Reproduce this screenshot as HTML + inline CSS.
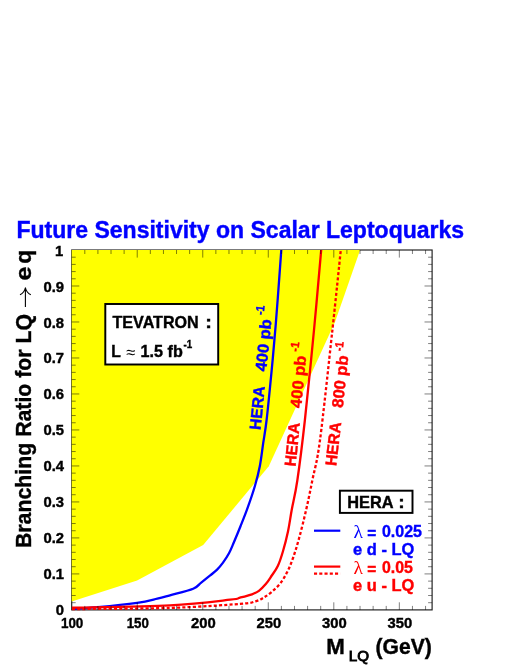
<!DOCTYPE html>
<html><head><meta charset="utf-8"><title>Future Sensitivity on Scalar Leptoquarks</title>
<style>
html,body{margin:0;padding:0;background:#fff;}
svg{display:block;}
text{font-family:"Liberation Sans",sans-serif;font-weight:bold;paint-order:stroke;}
svg{will-change:transform;}
</style></head><body>
<svg width="518" height="670" viewBox="0 0 518 670">
<rect width="518" height="670" fill="#fff"/>
<rect x="71.7" y="250.0" width="360.40" height="359.90" fill="none" stroke="#1c1c1c" stroke-width="1.15"/>
<polygon points="71.7,601.4 137.1,580.6 203.2,545.0 268.8,466.2 335.0,322.0 360.1,250.0 71.7,250.0" fill="#ffff00"/>
<text transform="translate(16.46,237.80) scale(1.0015,1)" font-size="23" fill="#0000ff" stroke="#0000ff" stroke-width="0.4">Future Sensitivity on Scalar Leptoquarks</text>
<g><text x="203.35" y="628.30" font-size="14.8" fill="#000" stroke="#000" stroke-width="0.4" text-anchor="middle">200</text><text x="268.88" y="628.30" font-size="14.8" fill="#000" stroke="#000" stroke-width="0.4" text-anchor="middle">250</text><text x="334.41" y="628.30" font-size="14.8" fill="#000" stroke="#000" stroke-width="0.4" text-anchor="middle">300</text><text x="399.94" y="628.30" font-size="14.8" fill="#000" stroke="#000" stroke-width="0.4" text-anchor="middle">350</text><text transform="translate(60.93,628.30) scale(0.9086,1)" font-size="14.8" fill="#000" stroke="#000" stroke-width="0.4">100</text><text transform="translate(126.64,628.30) scale(0.9001,1)" font-size="14.8" fill="#000" stroke="#000" stroke-width="0.4">150</text><text x="64.00" y="614.90" font-size="14.8" fill="#000" stroke="#000" stroke-width="0.4" text-anchor="end">0</text><text x="64.00" y="578.98" font-size="14.8" fill="#000" stroke="#000" stroke-width="0.4" text-anchor="end">0.1</text><text x="64.00" y="543.06" font-size="14.8" fill="#000" stroke="#000" stroke-width="0.4" text-anchor="end">0.2</text><text x="64.00" y="507.14" font-size="14.8" fill="#000" stroke="#000" stroke-width="0.4" text-anchor="end">0.3</text><text x="64.00" y="471.22" font-size="14.8" fill="#000" stroke="#000" stroke-width="0.4" text-anchor="end">0.4</text><text x="64.00" y="435.30" font-size="14.8" fill="#000" stroke="#000" stroke-width="0.4" text-anchor="end">0.5</text><text x="64.00" y="399.38" font-size="14.8" fill="#000" stroke="#000" stroke-width="0.4" text-anchor="end">0.6</text><text x="64.00" y="363.46" font-size="14.8" fill="#000" stroke="#000" stroke-width="0.4" text-anchor="end">0.7</text><text x="64.00" y="327.54" font-size="14.8" fill="#000" stroke="#000" stroke-width="0.4" text-anchor="end">0.8</text><text x="64.00" y="291.62" font-size="14.8" fill="#000" stroke="#000" stroke-width="0.4" text-anchor="end">0.9</text><text x="63.20" y="255.70" font-size="14.8" fill="#000" stroke="#000" stroke-width="0.4" text-anchor="end">1</text></g>
<text transform="translate(31.30,548.04) rotate(-90) scale(0.9344,1)" font-size="22.8" fill="#000" stroke="#000" stroke-width="0.4">Branching Ratio for LQ</text>
<text transform="translate(31.30,280.46) rotate(-90) scale(1.1043,1)" font-size="22.8" fill="#000" stroke="#000" stroke-width="0.4">e</text>
<text transform="translate(31.30,263.83) rotate(-90) scale(0.9944,1)" font-size="22.8" fill="#000" stroke="#000" stroke-width="0.4">q</text>
<path d="M25.4 307V288.6M20.0 294.8Q24.2 292.6 25.4 287.8Q26.6 292.6 30.8 294.8" fill="none" stroke="#000" stroke-width="1.1" stroke-linejoin="round"/>
<text transform="translate(326.21,654.20) scale(1.0228,1)" font-size="21.8" fill="#000" stroke="#000" stroke-width="0.4">M</text>
<text transform="translate(348.70,661.0) scale(0.9999,1)" font-size="15.2" fill="#000" stroke="#000" stroke-width="0.9" style="font-weight:normal">LQ</text>
<text transform="translate(375.54,654.20) scale(0.9686,1)" font-size="21.8" fill="#000" stroke="#000" stroke-width="0.4">(GeV)</text>
<path d="M72.00 608.80C76.32 608.53 87.05 608.18 97.90 607.20C108.75 606.22 127.20 604.32 137.10 602.90C147.00 601.48 151.82 599.97 157.30 598.70C162.78 597.43 164.02 596.97 170.00 595.30C175.98 593.63 188.05 590.78 193.20 588.70C198.35 586.62 198.07 585.02 200.90 582.80C203.73 580.58 207.50 577.60 210.20 575.40C212.90 573.20 214.97 571.73 217.10 569.60C219.23 567.47 221.02 565.32 223.00 562.60C224.98 559.88 227.20 556.65 229.00 553.30C230.80 549.95 231.90 546.97 233.80 542.50C235.70 538.03 238.12 532.22 240.40 526.50C242.68 520.78 245.08 514.95 247.50 508.20C249.92 501.45 252.85 492.98 254.90 486.00C256.95 479.02 258.42 473.43 259.80 466.30C261.18 459.17 262.07 450.92 263.20 443.20C264.33 435.48 265.22 431.87 266.60 420.00C267.98 408.13 269.98 387.83 271.50 372.00C273.02 356.17 274.52 339.17 275.70 325.00C276.88 310.83 277.67 299.50 278.60 287.00C279.53 274.50 280.85 256.17 281.30 250.00" fill="none" stroke="#0000ff" stroke-width="2.3" stroke-linejoin="round"/>
<path d="M72.00 607.70C88.33 607.30 143.63 606.63 170.00 605.30C196.37 603.97 218.53 600.98 230.20 599.70C241.87 598.42 236.37 598.50 240.00 597.60C243.63 596.70 248.85 595.43 252.00 594.30C255.15 593.17 256.60 592.50 258.90 590.80C261.20 589.10 263.65 586.65 265.80 584.10C267.95 581.55 269.80 578.50 271.80 575.50C273.80 572.50 275.95 570.10 277.80 566.10C279.65 562.10 281.18 557.37 282.90 551.50C284.62 545.63 286.63 537.82 288.10 530.90C289.57 523.98 290.15 518.48 291.70 510.00C293.25 501.52 295.20 495.00 297.40 480.00C299.60 465.00 302.13 445.00 304.90 420.00C307.67 395.00 311.28 358.33 314.00 330.00C316.72 301.67 320.00 263.33 321.20 250.00" fill="none" stroke="#ff0000" stroke-width="2.3" stroke-linejoin="round"/>
<path d="M72.00 609.10C88.33 608.90 142.00 608.77 170.00 607.90C198.00 607.03 225.75 605.00 240.00 603.90C254.25 602.80 251.63 602.30 255.50 601.30C259.37 600.30 260.48 599.48 263.20 597.90C265.92 596.32 268.95 594.23 271.80 591.80C274.65 589.37 277.73 586.58 280.30 583.30C282.87 580.02 285.05 576.40 287.20 572.10C289.35 567.80 291.20 563.22 293.20 557.50C295.20 551.78 297.05 545.72 299.20 537.80C301.35 529.88 303.90 519.63 306.10 510.00C308.30 500.37 310.08 491.67 312.40 480.00C314.72 468.33 316.67 465.00 320.00 440.00C323.33 415.00 328.93 361.67 332.40 330.00C335.87 298.33 339.40 263.33 340.80 250.00" fill="none" stroke="#ff0000" stroke-width="2.3" stroke-dasharray="3.1 2.15" stroke-linejoin="round"/>
<path d="M84.81 609.90v-4 M84.81 250.00v4 M97.91 609.90v-4 M97.91 250.00v4 M111.02 609.90v-4 M111.02 250.00v4 M124.12 609.90v-4 M124.12 250.00v4 M137.23 609.90v-7.6 M137.23 250.00v7.6 M150.33 609.90v-4 M150.33 250.00v4 M163.44 609.90v-4 M163.44 250.00v4 M176.54 609.90v-4 M176.54 250.00v4 M189.65 609.90v-4 M189.65 250.00v4 M202.75 609.90v-7.6 M202.75 250.00v7.6 M215.86 609.90v-4 M215.86 250.00v4 M228.97 609.90v-4 M228.97 250.00v4 M242.07 609.90v-4 M242.07 250.00v4 M255.18 609.90v-4 M255.18 250.00v4 M268.28 609.90v-7.6 M268.28 250.00v7.6 M281.39 609.90v-4 M281.39 250.00v4 M294.49 609.90v-4 M294.49 250.00v4 M307.60 609.90v-4 M307.60 250.00v4 M320.70 609.90v-4 M320.70 250.00v4 M333.81 609.90v-7.6 M333.81 250.00v7.6 M346.91 609.90v-4 M346.91 250.00v4 M360.02 609.90v-4 M360.02 250.00v4 M373.13 609.90v-4 M373.13 250.00v4 M386.23 609.90v-4 M386.23 250.00v4 M399.34 609.90v-7.6 M399.34 250.00v7.6 M412.44 609.90v-4 M412.44 250.00v4 M425.55 609.90v-4 M425.55 250.00v4 M71.70 602.70h4 M432.10 602.70h-4 M71.70 595.50h4 M432.10 595.50h-4 M71.70 588.31h4 M432.10 588.31h-4 M71.70 581.11h4 M432.10 581.11h-4 M71.70 573.91h7.6 M432.10 573.91h-7.6 M71.70 566.71h4 M432.10 566.71h-4 M71.70 559.51h4 M432.10 559.51h-4 M71.70 552.32h4 M432.10 552.32h-4 M71.70 545.12h4 M432.10 545.12h-4 M71.70 537.92h7.6 M432.10 537.92h-7.6 M71.70 530.72h4 M432.10 530.72h-4 M71.70 523.52h4 M432.10 523.52h-4 M71.70 516.33h4 M432.10 516.33h-4 M71.70 509.13h4 M432.10 509.13h-4 M71.70 501.93h7.6 M432.10 501.93h-7.6 M71.70 494.73h4 M432.10 494.73h-4 M71.70 487.53h4 M432.10 487.53h-4 M71.70 480.34h4 M432.10 480.34h-4 M71.70 473.14h4 M432.10 473.14h-4 M71.70 465.94h7.6 M432.10 465.94h-7.6 M71.70 458.74h4 M432.10 458.74h-4 M71.70 451.54h4 M432.10 451.54h-4 M71.70 444.35h4 M432.10 444.35h-4 M71.70 437.15h4 M432.10 437.15h-4 M71.70 429.95h7.6 M432.10 429.95h-7.6 M71.70 422.75h4 M432.10 422.75h-4 M71.70 415.55h4 M432.10 415.55h-4 M71.70 408.36h4 M432.10 408.36h-4 M71.70 401.16h4 M432.10 401.16h-4 M71.70 393.96h7.6 M432.10 393.96h-7.6 M71.70 386.76h4 M432.10 386.76h-4 M71.70 379.56h4 M432.10 379.56h-4 M71.70 372.37h4 M432.10 372.37h-4 M71.70 365.17h4 M432.10 365.17h-4 M71.70 357.97h7.6 M432.10 357.97h-7.6 M71.70 350.77h4 M432.10 350.77h-4 M71.70 343.57h4 M432.10 343.57h-4 M71.70 336.38h4 M432.10 336.38h-4 M71.70 329.18h4 M432.10 329.18h-4 M71.70 321.98h7.6 M432.10 321.98h-7.6 M71.70 314.78h4 M432.10 314.78h-4 M71.70 307.58h4 M432.10 307.58h-4 M71.70 300.39h4 M432.10 300.39h-4 M71.70 293.19h4 M432.10 293.19h-4 M71.70 285.99h7.6 M432.10 285.99h-7.6 M71.70 278.79h4 M432.10 278.79h-4 M71.70 271.59h4 M432.10 271.59h-4 M71.70 264.40h4 M432.10 264.40h-4 M71.70 257.20h4 M432.10 257.20h-4" stroke="#000" stroke-width="0.5" fill="none"/>
<rect x="105.3" y="304.0" width="112.9" height="60.5" fill="#fff" stroke="#000" stroke-width="1.95"/>
<text transform="translate(112.52,328.10) scale(0.9820,1)" font-size="16.4" fill="#000" stroke="#000" stroke-width="0.4">TEVATRON</text>
<text transform="translate(205.32,328.10) scale(1.2194,1)" font-size="16.4" fill="#000" stroke="#000" stroke-width="0.4">:</text>
<text transform="translate(111.14,357.00) scale(0.9543,1)" font-size="16.4" fill="#000" stroke="#000" stroke-width="0.4">L</text>
<text x="126.1" y="357.6" font-size="16.6" fill="#000" font-weight="normal" style="font-weight:normal">≈</text>
<text transform="translate(140.58,357.00) scale(0.9849,1)" font-size="16.4" fill="#000" stroke="#000" stroke-width="0.4">1.5 fb</text>
<text transform="translate(183.38,347.80) scale(0.8315,1)" font-size="11.8" fill="#000" stroke="#000" stroke-width="0.4">-1</text>
<rect x="339.9" y="490.7" width="72.6" height="22.2" fill="#fff" stroke="#000" stroke-width="1.95"/>
<text transform="translate(347.20,508.00) scale(0.9850,1)" font-size="16.6" fill="#000" stroke="#000" stroke-width="0.4">HERA</text>
<text transform="translate(398.27,508.00) scale(1.1703,1)" font-size="16.6" fill="#000" stroke="#000" stroke-width="0.4">:</text>
<line x1="314.0" y1="530.7" x2="340.3" y2="530.7" stroke="#0000ff" stroke-width="2.2"/>
<line x1="314.0" y1="566.6" x2="340.3" y2="566.6" stroke="#ff0000" stroke-width="2.2"/>
<line x1="314.0" y1="573.6" x2="340.3" y2="573.6" stroke="#ff0000" stroke-width="2.3" stroke-dasharray="3.1 2.15"/>
<text x="353.4" y="537.6" font-size="19.5" fill="#0000ff" style="font-family:'Liberation Serif',serif;font-weight:normal">λ</text>
<text transform="translate(367.25,539.00) scale(0.9338,1)" font-size="16.5" fill="#0000ff" stroke="#0000ff" stroke-width="0.4">=</text>
<text transform="translate(381.96,537.10) scale(0.9710,1)" font-size="16.5" fill="#0000ff" stroke="#0000ff" stroke-width="0.4">0.025</text>
<text transform="translate(353.06,554.60) scale(0.9987,1)" font-size="16.5" fill="#0000ff" stroke="#0000ff" stroke-width="0.4">e d - LQ</text>
<text x="353.4" y="573.8" font-size="19.5" fill="#ff0000" style="font-family:'Liberation Serif',serif;font-weight:normal">λ</text>
<text transform="translate(367.25,575.10) scale(0.9338,1)" font-size="16.5" fill="#ff0000" stroke="#ff0000" stroke-width="0.4">=</text>
<text transform="translate(381.96,573.20) scale(0.9649,1)" font-size="16.5" fill="#ff0000" stroke="#ff0000" stroke-width="0.4">0.05</text>
<text transform="translate(353.06,590.70) scale(0.9987,1)" font-size="16.5" fill="#ff0000" stroke="#ff0000" stroke-width="0.4">e u - LQ</text>
<g transform="translate(260.7,429.3) rotate(-84.4)" fill="#0000ff"><text transform="translate(-0.84,0.00) scale(0.9651,1)" font-size="16.0" fill="#0000ff" stroke="#0000ff" stroke-width="0.4">HERA</text><text transform="translate(57.76,0.00) scale(1.0341,1)" font-size="16.0" fill="#0000ff" stroke="#0000ff" stroke-width="0.4">400 pb</text><text transform="translate(113.76,-8.20) scale(0.9106,1)" font-size="11.8" fill="#0000ff" stroke="#0000ff" stroke-width="0.4">-1</text></g>
<g transform="translate(295.7,465.9) rotate(-84.5)" fill="#ff0000"><text transform="translate(-0.84,0.00) scale(0.9651,1)" font-size="16.0" fill="#ff0000" stroke="#ff0000" stroke-width="0.4">HERA</text><text transform="translate(57.76,0.00) scale(1.0341,1)" font-size="16.0" fill="#ff0000" stroke="#ff0000" stroke-width="0.4">400 pb</text><text transform="translate(113.76,-8.20) scale(0.9106,1)" font-size="11.8" fill="#ff0000" stroke="#ff0000" stroke-width="0.4">-1</text></g>
<g transform="translate(336.4,465.4) rotate(-83.7)" fill="#ff0000"><text transform="translate(-0.84,0.00) scale(0.9651,1)" font-size="16.0" fill="#ff0000" stroke="#ff0000" stroke-width="0.4">HERA</text><text transform="translate(57.48,0.00) scale(1.0396,1)" font-size="16.0" fill="#ff0000" stroke="#ff0000" stroke-width="0.4">800 pb</text><text transform="translate(113.76,-6.40) scale(0.9106,1)" font-size="11.8" fill="#ff0000" stroke="#ff0000" stroke-width="0.4">-1</text></g>
</svg>
</body></html>
